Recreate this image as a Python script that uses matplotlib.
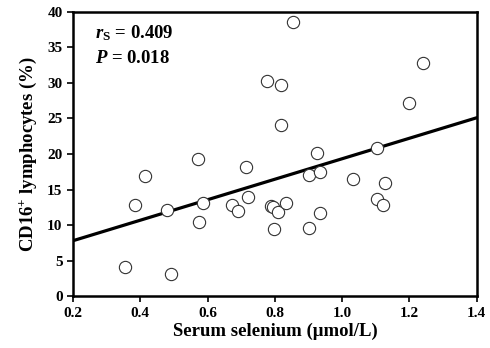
import numpy as np
import matplotlib.pyplot as plt

plt.rcParams['font.family'] = ['Liberation Serif', 'DejaVu Serif']
plt.rcParams['font.weight'] = 'bold'
plt.rcParams['mathtext.fontset'] = 'custom'
plt.rcParams['mathtext.rm'] = 'Liberation Serif:bold'
plt.rcParams['mathtext.it'] = 'Liberation Serif:bold:italic'
plt.rcParams['mathtext.bf'] = 'Liberation Serif:bold'

## data
selenium = [0.354, 0.491, 0.384, 0.414, 0.479, 0.586, 0.574, 0.570, 0.672, 0.690,
            0.714, 0.720, 0.788, 0.794, 0.809, 0.833, 0.797, 0.901, 0.934, 0.901,
            0.934, 1.032, 1.127, 1.103, 1.121, 0.853, 0.776, 0.818, 0.818, 1.240,
            1.200, 1.103, 0.925]
cd16 = [4.1, 3.1, 12.8, 16.9, 12.1, 13.1, 10.4, 19.3, 12.8, 12.0,
        18.2, 13.9, 12.7, 12.5, 11.8, 13.1, 9.4, 9.6, 11.7, 17.0,
        17.5, 16.5, 15.9, 13.7, 12.8, 38.5, 30.3, 29.7, 24.1, 32.8,
        27.2, 20.8, 20.1]
fit_x = [0.2, 1.4]
fit_y = [7.8, 25.1]
xticks = [0.2, 0.4, 0.6, 0.8, 1.0, 1.2, 1.4]
xticklabels = ['0.2', '0.4', '0.6', '0.8', '1.0', '1.2', '1.4']
yticks = [0, 5, 10, 15, 20, 25, 30, 35, 40]

fig = plt.figure(figsize=(4.9, 3.48), dpi=100)
ax = fig.add_axes([0.149, 0.149, 0.824, 0.817])

ax.plot(fit_x, fit_y, color='black', linewidth=2.3, zorder=2)
ax.scatter(selenium, cd16, s=78, facecolors='white', edgecolors='#333333',
           linewidths=0.8, zorder=3)

ax.set_xlim(0.2, 1.4)
ax.set_ylim(0, 40)
ax.set_xticks(xticks)
ax.set_xticklabels(xticklabels)
ax.set_yticks(yticks)
for s in ax.spines.values():
    s.set_linewidth(1.8)
ax.tick_params(direction='out', length=4, width=1.2, labelsize=11)
for lab in ax.get_xticklabels() + ax.get_yticklabels():
    lab.set_fontweight('bold')

ax.set_xlabel('Serum selenium (\u03bcmol/L)', fontsize=13.5, fontweight='bold', labelpad=2)
ax.set_ylabel('CD16$^{+}$ lymphocytes (%)', fontsize=13.5, fontweight='bold', labelpad=6)

ax.text(0.055, 0.925, r'$r_{\mathrm{S}}$ = 0.409', transform=ax.transAxes,
        fontsize=13.5, fontweight='bold', va='center', ha='left')
ax.text(0.055, 0.835, r'$P$ = 0.018', transform=ax.transAxes,
        fontsize=13.5, fontweight='bold', va='center', ha='left')

fig.savefig('out.png', dpi=100)
